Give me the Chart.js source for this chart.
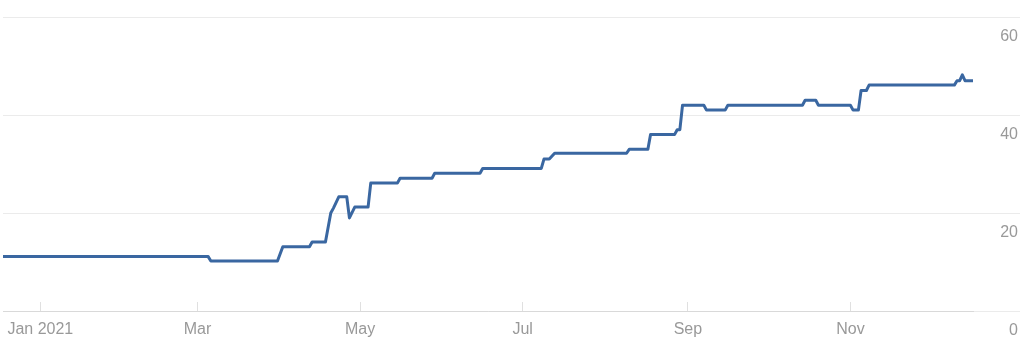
<!DOCTYPE html>
<html>
<head>
<meta charset="utf-8">
<script src="https://cdn.jsdelivr.net/npm/chart.js@4/dist/chart.umd.min.js"></script>
<style>
  html, body { margin: 0; padding: 0; background: #fff; }
  #wrap { width: 1024px; height: 353px; }
</style>
</head>
<body>
<div id="wrap"><canvas id="c" width="1024" height="353"></canvas></div>
<script>
// Data
const dates = [
  '2020-12-18','2021-03-05','2021-03-06','2021-03-31','2021-04-02','2021-04-12','2021-04-13',
  '2021-04-18','2021-04-20','2021-04-21','2021-04-23','2021-04-26','2021-04-27','2021-04-29',
  '2021-05-04','2021-05-05','2021-05-15','2021-05-16','2021-05-28','2021-05-29','2021-06-15',
  '2021-06-16','2021-07-08','2021-07-09','2021-07-11','2021-07-13','2021-08-09','2021-08-10',
  '2021-08-17','2021-08-18','2021-08-27','2021-08-28','2021-08-29','2021-08-30','2021-09-07',
  '2021-09-08','2021-09-15','2021-09-16','2021-10-14','2021-10-15','2021-10-19','2021-10-20',
  '2021-11-01','2021-11-02','2021-11-04','2021-11-05','2021-11-07','2021-11-08','2021-12-10',
  '2021-12-11','2021-12-12','2021-12-13','2021-12-14','2021-12-17'
];
const values = [
  11.1, 11.1, 10.2, 10.2, 13.1, 13.1, 14.1,
  14.1, 20.0, 21.0, 23.3, 23.3, 19.0, 21.2,
  21.2, 26.1, 26.1, 27.1, 27.1, 28.1, 28.1,
  29.1, 29.1, 31.0, 31.0, 32.2, 32.2, 33.0,
  33.0, 36.0, 36.0, 37.0, 37.0, 42.0, 42.0,
  41.0, 41.0, 42.0, 42.0, 43.0, 43.0, 42.0,
  42.0, 41.0, 41.0, 45.0, 45.0, 46.1, 46.1,
  47.0, 47.0, 48.2, 47.0, 47.0
];
const tickDates = ['2021-01-01','2021-03-01','2021-05-01','2021-07-01','2021-09-01','2021-11-01'];
const tickLabels = ['Jan 2021','Mar','May','Jul','Sep','Nov'];
const rangeStart = '2020-12-18';
const rangeEnd = '2021-12-17';
const yTicks = [0, 20, 40, 60];

const DAY = 86400000;
const ORIGIN = Date.UTC(2021, 0, 1);
function dayOf(s) {
  const p = s.split('-').map(Number);
  return Math.round((Date.UTC(p[0], p[1] - 1, p[2]) - ORIGIN) / DAY);
}
const tickDays = tickDates.map(dayOf);
const points = dates.map((d, i) => ({ x: dayOf(d), y: values[i] }));

const font = { family: '"Liberation Sans", Arial, Helvetica, sans-serif', size: 16 };

new Chart(document.getElementById('c'), {
  type: 'line',
  data: {
    datasets: [{
      data: points,
      borderColor: '#3a67a1',
      backgroundColor: '#3a67a1',
      borderWidth: 3,
      borderJoinStyle: 'round',
      borderCapStyle: 'round',
      pointRadius: 0,
      pointHoverRadius: 0,
      tension: 0,
      fill: false
    }]
  },
  options: {
    responsive: false,
    animation: false,
    events: [],
    layout: { padding: { top: 17, left: 3, right: 6, bottom: 0 } },
    plugins: { legend: { display: false }, tooltip: { enabled: false } },
    scales: {
      x: {
        type: 'linear',
        position: 'bottom',
        min: dayOf(rangeStart),
        max: dayOf(rangeEnd),
        afterBuildTicks: (s) => { s.ticks = tickDays.map(v => ({ value: v })); },
        afterFit: (s) => { s.height = 42; s.paddingLeft = 0; s.paddingRight = 0; },
        grid: {
          drawOnChartArea: false,
          drawTicks: true,
          tickLength: -9,
          tickColor: '#e0e0e0',
          tickWidth: 1
        },
        border: { display: true, color: '#d9d9d9', width: 1 },
        ticks: {
          autoSkip: false,
          maxRotation: 0,
          padding: 18,
          color: '#999999',
          font: font,
          callback: (v) => {
            const i = tickDays.indexOf(v);
            return i >= 0 ? tickLabels[i] : '';
          }
        }
      },
      y: {
        type: 'linear',
        position: 'right',
        min: 0,
        max: 60,
        afterBuildTicks: (s) => { s.ticks = yTicks.map(v => ({ value: v })); },
        afterFit: (s) => { s.width = 45; s.paddingTop = 0; s.paddingBottom = 0; },
        grid: {
          color: '#ebebeb',
          tickColor: '#ebebeb',
          drawTicks: true,
          tickLength: 47,
          lineWidth: 1
        },
        border: { display: false },
        ticks: {
          crossAlign: 'far',
          labelOffset: 20,
          padding: 0,
          color: '#999999',
          font: font,
          callback: (v) => String(v)
        }
      }
    }
  }
});
</script>
</body>
</html>
